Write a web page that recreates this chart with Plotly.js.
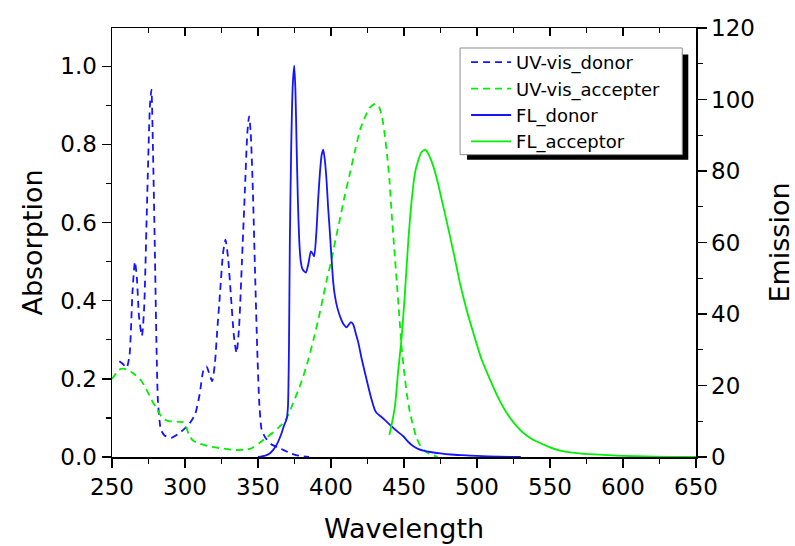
<!DOCTYPE html>
<html>
<head>
<meta charset="utf-8">
<script src="https://cdn.plot.ly/plotly-3.0.1.min.js"></script>
<style>html,body{margin:0;padding:0;background:#fff;}#chart{width:795px;height:546px;}</style>
</head>
<body>
<div id="chart"></div>
<script>
// UV-vis donor (left axis, absorption)
const uvDonorX = [255,257.5,260,262,264,265.7,267,268.5,270.5,272,274,276,277,278,279.3,280.5,281.5,283.5,286,290.5,295,299,303,307,310,312.5,314.7,316.5,318.6,320.5,322,324,326,327.7,329.5,331.5,333.5,335.3,337,339,341,342.7,343.9,345,346.5,348,349.7,351,352.5,355,359.3,364,368,372,376,380,385];
const uvDonorY = [0.245,0.238,0.228,0.26,0.42,0.50,0.46,0.36,0.31,0.38,0.65,0.90,0.94,0.80,0.54,0.28,0.14,0.07,0.055,0.049,0.058,0.07,0.085,0.11,0.16,0.22,0.232,0.215,0.194,0.24,0.32,0.42,0.52,0.556,0.51,0.41,0.31,0.266,0.33,0.50,0.68,0.83,0.872,0.83,0.68,0.47,0.25,0.13,0.07,0.05,0.032,0.024,0.017,0.010,0.005,0.002,0.0];

// UV-vis accepter (left axis, absorption)
const uvAccX = [250,252,254,257,260,263,266,269,272,275,278,280.5,283,286,289,292,296,299,301,302.5,305.5,310,317,325,335,342,346,351,356,360,364,368,371,374,377.5,381,384.5,388,391.5,394.7,397.5,400.4,403,406,409.5,413,416.5,420,423.5,426.7,430.5,433,435,437,438.5,440,441.6,443.3,445,446.7,448.4,450.2,452,454,456.4,458.5,461,464,467,470,473];
const uvAccY = [0.20,0.21,0.222,0.226,0.224,0.218,0.21,0.20,0.184,0.162,0.14,0.125,0.108,0.096,0.092,0.091,0.090,0.089,0.075,0.058,0.042,0.034,0.027,0.022,0.018,0.019,0.023,0.036,0.05,0.062,0.075,0.09,0.11,0.138,0.17,0.206,0.25,0.30,0.355,0.411,0.46,0.505,0.555,0.607,0.67,0.727,0.785,0.838,0.872,0.895,0.904,0.895,0.87,0.82,0.77,0.71,0.62,0.535,0.45,0.365,0.28,0.215,0.16,0.115,0.078,0.05,0.03,0.017,0.009,0.004,0.0];

// FL donor (right axis, emission)
const flDonorX = [350,355,358,360.4,363,366,368,369.6,370.5,371.2,371.8,372.8,373.8,374.8,375.6,376.4,377.3,378.2,379.2,380.5,382.8,384.5,386.2,387.3,388.5,390,391.2,392.4,393.6,394.7,395.8,397,398,399.2,400.3,401.5,402.7,404.5,406.5,408.5,410.7,412.5,413.7,415.3,417,418.7,421,424.4,427.5,430,431.3,434,437,440.4,445,449.5,453,456.4,460,464,468,475,482,490,500,515,530];
const flDonorY = [0,0.4,1.0,2.0,3.6,6.5,9.0,10.6,14,30,60,88,104,109.5,103,88,72,61,55,52.5,51.6,54,57.5,57,56.1,63,72,79.4,84.5,86,83,77,70,63,56,49,45,41.5,39,37.2,36.3,37.2,37.7,37,34.5,32,27.5,21.6,16.5,13.2,12.3,11.4,10.3,9.0,7.3,5.8,4.2,3.0,2.2,1.7,1.4,1.0,0.7,0.5,0.3,0.1,0];

// FL acceptor (right axis, emission)
const flAccX = [440,441.5,443.8,446,448.4,450.5,453,455.3,457.5,459.8,462,464.6,467,470.1,473,476.9,480,483.8,488.4,493,497.5,503,509,515,520.4,526,531.8,537,543.2,550,557,565,577.5,590,600,615,630,650];
const flAccY = [6.2,9,14.2,24,33.5,45,60.8,72,79.4,83,85.3,86,84.5,81.3,77,70.1,64.5,57.5,48.5,41,34.7,27.5,21.6,16.2,12.3,9.2,6.7,5.2,3.9,2.7,1.8,1.25,0.8,0.5,0.3,0.15,0.05,0];

const seriesNames = ['UV-vis_donor','UV-vis_accepter','FL_donor','FL_acceptor'];
const xTickVals = [250,300,350,400,450,500,550,600,650];

const BLUE = 'rgb(20,20,255)';
const GREEN = 'rgb(0,240,0)';
const FONT = 'DejaVu Sans, Verdana, sans-serif';
const DASH = '7px,5px';
const LW = 1.8;

const traces = [
  {x: uvDonorX, y: uvDonorY, name: seriesNames[0], type: 'scatter', mode: 'lines',
   line: {color: BLUE, width: LW, dash: DASH, shape: 'spline', smoothing: 0.6}, yaxis: 'y'},
  {x: uvAccX, y: uvAccY, name: seriesNames[1], type: 'scatter', mode: 'lines',
   line: {color: GREEN, width: LW, dash: DASH, shape: 'spline', smoothing: 0.6}, yaxis: 'y'},
  {x: flDonorX, y: flDonorY, name: seriesNames[2], type: 'scatter', mode: 'lines',
   line: {color: BLUE, width: LW, shape: 'spline', smoothing: 0.6}, yaxis: 'y2'},
  {x: flAccX, y: flAccY, name: seriesNames[3], type: 'scatter', mode: 'lines',
   line: {color: GREEN, width: LW, shape: 'spline', smoothing: 0.6}, yaxis: 'y2'},
  {x: [], y: [], xaxis: 'x2', yaxis: 'y', showlegend: false, hoverinfo: 'skip'}
];

const layout = {
  width: 795, height: 546,
  margin: {l: 112, r: 99, t: 28, b: 89},
  paper_bgcolor: '#fff', plot_bgcolor: '#fff',
  font: {family: FONT, color: '#000', size: 23},
  showlegend: true,
  xaxis: {
    range: [250, 650], tickvals: xTickVals, ticks: 'outside', ticklen: 9, tickwidth: 1.3,
    tickcolor: '#000', showline: true, linecolor: '#000', linewidth: 1.5, mirror: true,
    showgrid: false, zeroline: false,
    minor: {dtick: 25, tick0: 250, ticks: 'outside', ticklen: 5, tickwidth: 1.2, tickcolor: '#000', showgrid: false},
    tickfont: {size: 23, family: FONT},
    title: {text: 'Wavelength', font: {size: 27, family: FONT}, standoff: 20}
  },
  xaxis2: {
    overlaying: 'x', side: 'top', anchor: 'y', range: [250, 650], tickvals: xTickVals,
    ticks: 'inside', ticklen: 8, tickwidth: 1.3, tickcolor: '#000', showticklabels: false,
    showline: false, showgrid: false, zeroline: false,
    minor: {dtick: 25, tick0: 250, ticks: 'inside', ticklen: 5, tickwidth: 1.2, tickcolor: '#000', showgrid: false}
  },
  yaxis: {
    range: [0, 1.098], dtick: 0.2, tick0: 0, tickformat: '.1f', ticks: 'outside', ticklen: 9, tickwidth: 1.3,
    tickcolor: '#000', showline: true, linecolor: '#000', linewidth: 1.5,
    showgrid: false, zeroline: false,
    minor: {dtick: 0.1, tick0: 0, ticks: 'outside', ticklen: 5, tickwidth: 1.2, tickcolor: '#000', showgrid: false},
    tickfont: {size: 23, family: FONT},
    title: {text: 'Absorption', font: {size: 27, family: FONT}, standoff: 10}
  },
  yaxis2: {
    overlaying: 'y', side: 'right', range: [0, 120], dtick: 20, tick0: 0, ticks: 'outside', ticklen: 9, tickwidth: 1.3,
    tickcolor: '#000', showline: true, linecolor: '#000', linewidth: 1.5,
    showgrid: false, zeroline: false,
    minor: {dtick: 10, tick0: 0, ticks: 'outside', ticklen: 5, tickwidth: 1.2, tickcolor: '#000', showgrid: false},
    tickfont: {size: 23, family: FONT},
    title: {text: 'Emission', font: {size: 27, family: FONT}, standoff: 18}
  },
  legend: {
    x: 0.6063, y: 0.9627, xanchor: 'left', yanchor: 'top',
    bgcolor: 'rgba(0,0,0,0)', borderwidth: 0,
    font: {size: 18, family: FONT, color: '#000'},
    itemwidth: 40, tracegroupgap: 0
  },
  shapes: [
    {type: 'rect', xref: 'paper', yref: 'paper', x0: 0.608, x1: 0.9868, y0: 0.693, y1: 0.938,
     fillcolor: '#000', line: {width: 0}, layer: 'above'},
    {type: 'rect', xref: 'paper', yref: 'paper', x0: 0.596, x1: 0.9765, y0: 0.7047, y1: 0.9534,
     fillcolor: '#fff', line: {width: 1, color: '#8c8c8c'}, layer: 'above'}
  ]
};

Plotly.newPlot('chart', traces, layout, {staticPlot: true, displayModeBar: false});
</script>
</body>
</html>
